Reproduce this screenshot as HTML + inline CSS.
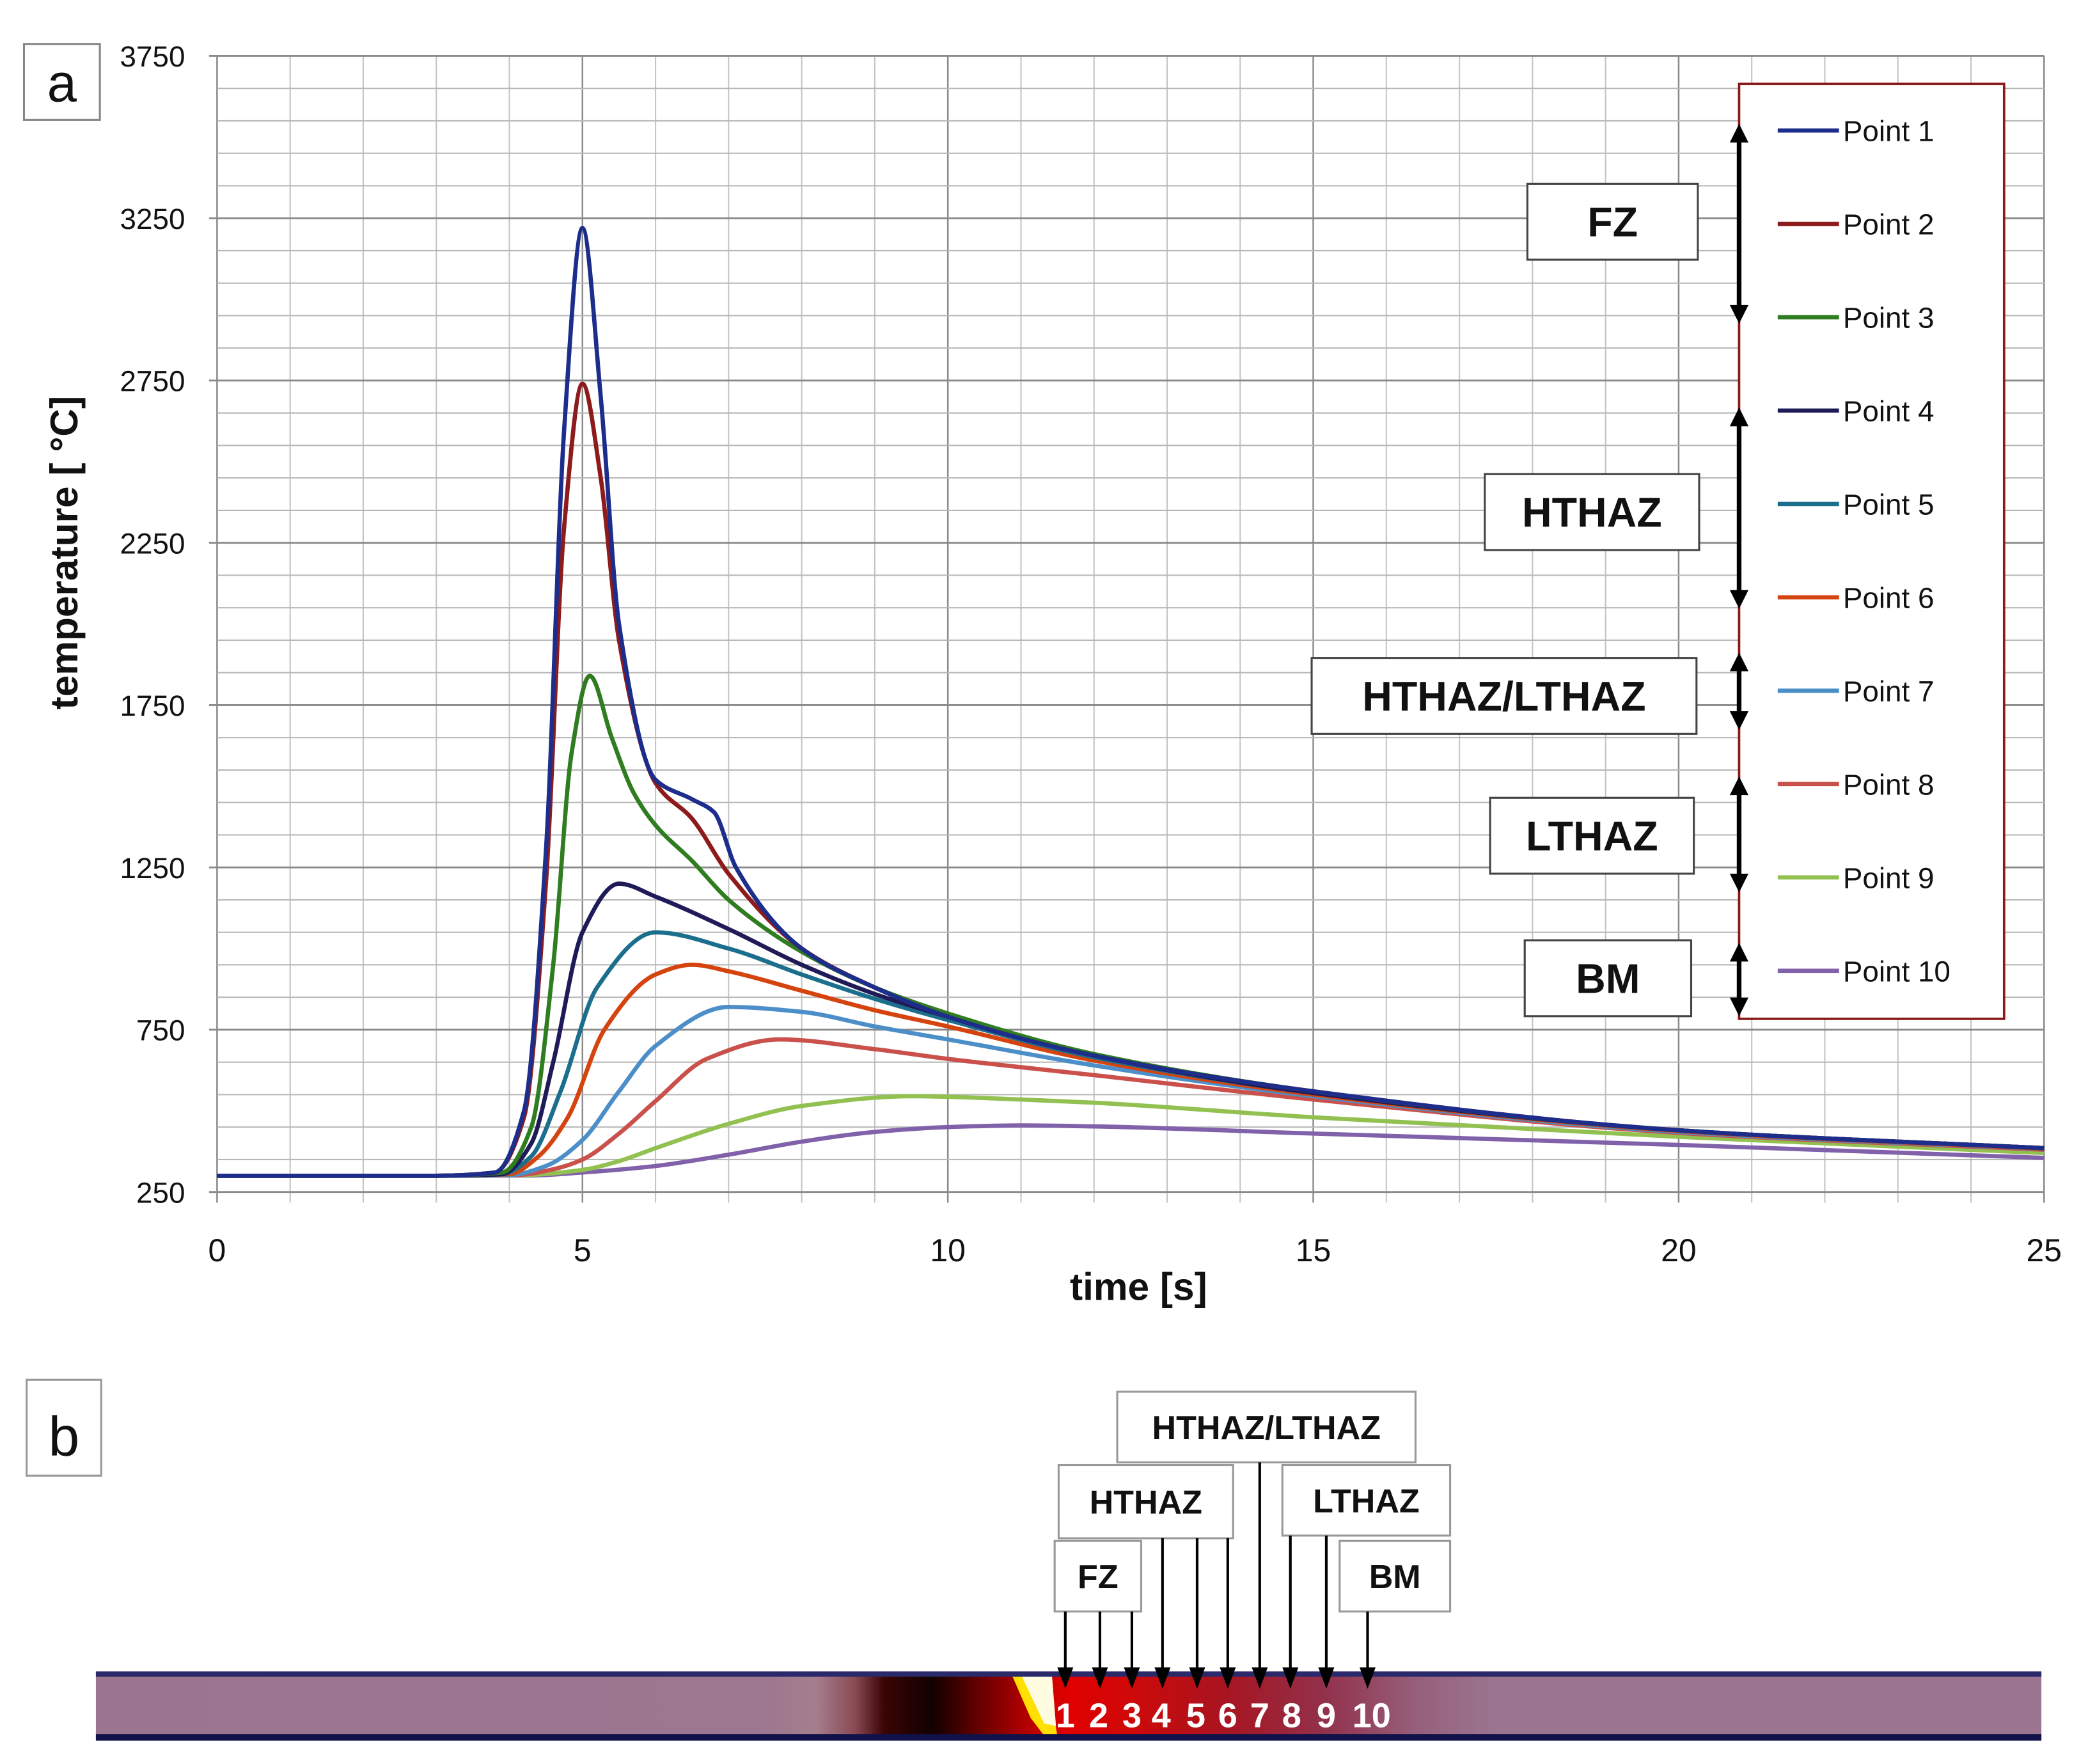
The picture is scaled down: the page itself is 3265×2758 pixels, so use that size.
<!DOCTYPE html>
<html><head><meta charset="utf-8"><style>
html,body{margin:0;padding:0;background:#fff}
svg{display:block}
text{font-family:"Liberation Sans","DejaVu Sans",sans-serif}
</style></head><body>
<svg id="fig" xmlns="http://www.w3.org/2000/svg" width="3265" height="2758" viewBox="0 0 1568 1324.5" preserveAspectRatio="none">
<defs>
<linearGradient id="barGrad" x1="0" x2="1" y1="0" y2="0">
<stop offset="0" stop-color="#9b7590"/>
<stop offset="0.34" stop-color="#9d7690"/>
<stop offset="0.37" stop-color="#a57e8e"/>
<stop offset="0.39" stop-color="#8a4a55"/>
<stop offset="0.405" stop-color="#3a0505"/>
<stop offset="0.43" stop-color="#120000"/>
<stop offset="0.455" stop-color="#6a0000"/>
<stop offset="0.48" stop-color="#b80000"/>
<stop offset="0.5" stop-color="#e00000"/>
<stop offset="0.53" stop-color="#d00808"/>
<stop offset="0.58" stop-color="#a81420"/>
<stop offset="0.63" stop-color="#92304a"/>
<stop offset="0.68" stop-color="#96607c"/>
<stop offset="0.72" stop-color="#9b7590"/>
<stop offset="1" stop-color="#9b7590"/>
</linearGradient>
</defs>
<g id="grid"></g>
<g id="axes"></g>
<g id="series"></g>
<g id="legend"></g>
<g id="zones"></g>
<g id="panelb"></g>
</svg>
<script>
const xTicks=[0,5,10,15,20,25];
const yTicks=[250,750,1250,1750,2250,2750,3250,3750];
const seriesNames=["Point 1","Point 2","Point 3","Point 4","Point 5","Point 6","Point 7","Point 8","Point 9","Point 10"];
const seriesColors=["#1c2d8c","#8e1b1b","#2f7d20","#1f1b58","#1b6f8c","#d5430f","#4c8fc8","#c9504b","#92c152","#8061aa"];
const t1=[0,3,3.8,4.2,4.5,4.75,5,5.25,5.5,6,6.5,6.8,7.1,8,9,10,12,15,20,25];
const v1=[300,300,310,500,1300,2600,3220,2700,2000,1520,1460,1420,1250,1000,880,790,670,560,440,385];
const t2=[0,3,3.8,4.2,4.5,4.75,5,5.25,5.5,6,6.5,7,8,9,10,12,15,20,25];
const v2=[300,300,310,480,1200,2300,2740,2450,1950,1510,1400,1230,1000,880,790,670,560,440,385];
const t3=[0,3,3.9,4.3,4.6,4.85,5.1,5.4,5.7,6,6.5,7,8,9,10,12,15,20,25];
const v3=[300,300,310,450,950,1600,1840,1650,1480,1380,1270,1150,990,880,800,675,560,440,385];
const t4=[0,3,3.9,4.3,4.6,5,5.5,6,7,8,9,10,12,15,20,25];
const v4=[300,300,305,400,650,1050,1200,1160,1060,950,860,790,670,555,440,385];
const t5=[0,3,3.9,4.3,4.7,5.2,6,7,8,9,10,12,15,20,25];
const v5=[300,300,305,360,560,880,1050,1000,920,845,780,665,555,440,385];
const t6=[0,3,4,4.4,4.8,5.3,6,6.5,7,8,9,10,12,15,20,25];
const v6=[300,300,305,360,480,750,920,950,930,870,810,760,655,550,438,383];
const t7=[0,3,4,4.5,5,5.5,6,7,8,9,10,12,15,20,25];
const v7=[300,300,302,330,410,560,700,820,805,760,720,640,545,435,382];
const t8=[0,3,4.1,4.6,5,5.5,6,6.7,7.7,9,10,12,15,20,25];
const v8=[300,300,302,320,350,430,530,660,720,690,660,610,535,432,380];
const t9=[0,3,4.2,5,5.5,6,7,8,9.5,11,12,15,20,25];
const v9=[300,300,302,318,345,385,460,515,545,535,525,480,420,370];
const t10=[0,3,4.3,5,6,7,8,9,10,11,12,15,20,25];
const v10=[300,300,301,310,330,365,405,435,450,455,452,430,395,355];
const seriesT=[t1,t2,t3,t4,t5,t6,t7,t8,t9,t10];
const seriesV=[v1,v2,v3,v4,v5,v6,v7,v8,v9,v10];
const zoneNames=["FZ","HTHAZ","HTHAZ/LTHAZ","LTHAZ","BM"];
const pointLabels=["1","2","3","4","5","6","7","8","9","10"];

const NS="http://www.w3.org/2000/svg";
function mk(tag,attrs,parent,txt){const e=document.createElementNS(NS,tag);for(const k in attrs)e.setAttribute(k,attrs[k]);if(txt!==undefined)e.textContent=txt;parent.appendChild(e);return e;}
const X0=163,X1=1535,Yt=42,Yb=895,TMAX=25,VMIN=250,VMAX=3750;
const xs=t=>X0+(t/TMAX)*(X1-X0);
const ys=v=>Yb-(v-VMIN)/(VMAX-VMIN)*(Yb-Yt);

const grid=document.getElementById('grid');
for(let t=0;t<=TMAX;t++){const l=mk('line',{x1:xs(t),x2:xs(t),y1:Yt,y2:Yb+8,stroke:t%5===0?'#8a8a8a':'#c4c4c4','stroke-width':t%5===0?1.2:1},grid);
}
for(let v=VMIN;v<=VMAX;v+=100){const major=(v-250)%500===0;const l=mk('line',{x1:major?X0-6:X0,x2:X1,y1:ys(v),y2:ys(v),stroke:major?'#8a8a8a':'#b8b8b8','stroke-width':major?1.4:1},grid);
}
const axes=document.getElementById('axes');
xTicks.forEach(t=>{const e=mk('text',{x:xs(t),y:947,'font-size':24,'text-anchor':'middle',fill:'#111'},axes,String(t));
});
yTicks.forEach(v=>{const e=mk('text',{x:139,y:ys(v)+8,'font-size':22,'text-anchor':'end',fill:'#111'},axes,String(v));
});
let e=mk('text',{x:855,y:976,'font-size':29,'font-weight':'bold','text-anchor':'middle',fill:'#111'},axes,'time [s]');

e=mk('text',{x:0,y:0,'font-size':29,'font-weight':'bold','text-anchor':'middle',fill:'#111',transform:'translate(58,415) rotate(-90)'},axes,'temperature [ °C]');

e=mk('rect',{x:18,y:33,width:57,height:57,fill:'#fff',stroke:'#888','stroke-width':1.5},axes);

e=mk('text',{x:46.5,y:76,'font-size':40,'text-anchor':'middle',fill:'#111'},axes,'a');


function monotonePath(T,V){const n=T.length;const x=T.map(xs),y=V.map(ys);
const d=[],m=new Array(n);for(let i=0;i<n-1;i++)d.push((y[i+1]-y[i])/(x[i+1]-x[i]));
m[0]=d[0];m[n-1]=d[n-2];
for(let i=1;i<n-1;i++){if(d[i-1]*d[i]<=0)m[i]=0;else{const h0=x[i]-x[i-1],h1=x[i+1]-x[i];const w1=2*h1+h0,w2=h1+2*h0;m[i]=(w1+w2)/(w1/d[i-1]+w2/d[i]);}}
let p='M'+x[0]+','+y[0];
for(let i=0;i<n-1;i++){const h=(x[i+1]-x[i])/3;p+=` C${x[i]+h},${y[i]+m[i]*h} ${x[i+1]-h},${y[i+1]-m[i+1]*h} ${x[i+1]},${y[i+1]}`;}
return p;}
const sg=document.getElementById('series');
for(let s=seriesT.length-1;s>=0;s--){
const p=mk('path',{d:monotonePath(seriesT[s],seriesV[s]),fill:'none',stroke:seriesColors[s],'stroke-width':3.2,'stroke-linejoin':'round'},sg);
}

const lg=document.getElementById('legend');
e=mk('rect',{x:1306,y:63,width:199,height:702,fill:'#fff',stroke:'#8b1a1a','stroke-width':1.8},lg);

seriesNames.forEach((n,i)=>{const y=98+i*70.1;
const g=mk('g',{},lg);
mk('line',{x1:1335,x2:1381,y1:y,y2:y,stroke:seriesColors[i],'stroke-width':3.2},g);
mk('text',{x:1384,y:y+8,'font-size':22,fill:'#111'},g,n);});

const zg=document.getElementById('zones');
const zoneBoxes=[[1147,138,128,57],[1115,356,161,57],[985,494,289,57],[1119,599,153,57],[1145,706,125,57]];
const zoneArrows=[[93,243],[306,457],[490,548],[583,670],[708,763]];
zoneNames.forEach((n,i)=>{const b=zoneBoxes[i];const g=mk('g',{},zg);
mk('rect',{x:b[0],y:b[1],width:b[2],height:b[3],fill:'#fff',stroke:'#444','stroke-width':1.5},g);
mk('text',{x:b[0]+b[2]/2,y:b[1]+b[3]/2+11,'font-size':31,'font-weight':'bold','text-anchor':'middle',fill:'#111'},g,n);
const a=zoneArrows[i];const ax=1306;
mk('line',{x1:ax,x2:ax,y1:a[0]+10,y2:a[1]-10,stroke:'#000','stroke-width':3.5},g);
mk('path',{d:`M${ax-7},${a[0]+14} L${ax},${a[0]} L${ax+7},${a[0]+14} Z`,fill:'#000'},g);
mk('path',{d:`M${ax-7},${a[1]-14} L${ax},${a[1]} L${ax+7},${a[1]-14} Z`,fill:'#000'},g);});

const pb=document.getElementById('panelb');
e=mk('rect',{x:20,y:1036,width:56,height:72,fill:'#fff',stroke:'#999','stroke-width':1.5},pb);

e=mk('text',{x:48,y:1093,'font-size':42,'text-anchor':'middle',fill:'#111'},pb,'b');

e=mk('rect',{x:72,y:1256,width:1461,height:50,fill:'url(#barGrad)'},pb);

e=mk('path',{d:'M760,1258 L786,1258 L794,1303 L784,1303 L774,1290 Z',fill:'#ffe000'},pb);

e=mk('path',{d:'M767,1258 L790,1258 L793,1296 L784,1294 Z',fill:'#fffbe0'},pb);

mk('rect',{x:72,y:1255,width:1461,height:4,fill:'#2a2a6a'},pb);
mk('rect',{x:72,y:1302,width:1461,height:5,fill:'#12124a'},pb);
const pxs=[800,825,850,872,898,922,946,970,996,1030];
pointLabels.forEach((l,i)=>{const t=mk('text',{x:pxs[i],y:1297,'font-size':26,'font-weight':'bold','text-anchor':'middle',fill:'#fff'},pb,l);
});
const bBoxes=[[792,1157,65,53],[795,1100,131,55],[839,1045,224,53],[963,1100,126,53],[1006,1157,83,53]];
bBoxes.forEach((b,i)=>{const g=mk('g',{},pb);
mk('rect',{x:b[0],y:b[1],width:b[2],height:b[3],fill:'#fff',stroke:'#999','stroke-width':1.5},g);
mk('text',{x:b[0]+b[2]/2,y:b[1]+b[3]/2+9,'font-size':25,'font-weight':'bold','text-anchor':'middle',fill:'#111'},g,zoneNames[i]);});
const arrowTop=[1210,1210,1210,1155,1155,1155,1098,1153,1153,1210];
const arrowX=[800,826,850,873,899,922,946,969,996,1027];
arrowX.forEach((ax,i)=>{const g=mk('g',{},pb);
mk('line',{x1:ax,x2:ax,y1:arrowTop[i],y2:1256,stroke:'#000','stroke-width':2},g);
mk('path',{d:`M${ax-6},${1252} L${ax+6},${1252} L${ax},${1268} Z`,fill:'#000'},g);});
</script>
</body></html>
